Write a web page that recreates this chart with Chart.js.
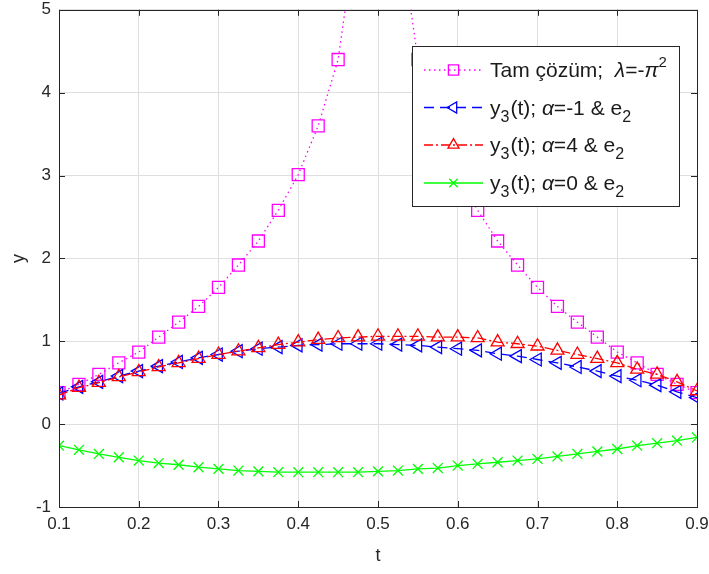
<!DOCTYPE html>
<html><head><meta charset="utf-8">
<script src="https://cdn.jsdelivr.net/npm/chart.js@4/dist/chart.umd.min.js"></script>
<style>html,body{margin:0;padding:0;background:#fff;}#wrap{width:709px;height:574px;position:relative;}</style>
</head><body><div id="wrap"><canvas id="c" width="709" height="574"></canvas></div>
<script>
// ---- data ----
const tValues = [0.1,0.125,0.15,0.175,0.2,0.225,0.25,0.275,0.3,0.325,0.35,0.375,0.4,0.425,0.45,0.475,0.5,0.525,0.55,0.575,0.6,0.625,0.65,0.675,0.7,0.725,0.75,0.775,0.8,0.825,0.85,0.875,0.9];
const exactSolution = [0.38,0.48,0.60,0.74,0.87,1.05,1.23,1.42,1.65,1.92,2.21,2.58,3.01,3.60,4.40,6.1,7.0,6.1,4.40,3.60,3.01,2.58,2.21,1.92,1.65,1.42,1.23,1.05,0.87,0.74,0.60,0.48,0.38];
const y3AlphaMinus1 = [0.37,0.45,0.51,0.58,0.64,0.70,0.75,0.80,0.84,0.88,0.91,0.93,0.95,0.96,0.97,0.97,0.97,0.96,0.95,0.93,0.91,0.89,0.85,0.82,0.78,0.74,0.69,0.64,0.58,0.53,0.47,0.39,0.32];
const y3Alpha4 = [0.35,0.44,0.50,0.57,0.63,0.69,0.74,0.79,0.84,0.88,0.92,0.96,0.99,1.02,1.04,1.05,1.06,1.06,1.06,1.05,1.05,1.04,0.99,0.97,0.94,0.89,0.84,0.79,0.74,0.66,0.60,0.51,0.40];
const y3Alpha0 = [-0.26,-0.31,-0.36,-0.40,-0.44,-0.47,-0.49,-0.52,-0.54,-0.56,-0.57,-0.58,-0.58,-0.58,-0.58,-0.58,-0.57,-0.56,-0.54,-0.53,-0.50,-0.48,-0.46,-0.44,-0.42,-0.39,-0.36,-0.33,-0.30,-0.26,-0.23,-0.20,-0.16];
const xTickLabels = ['0.1','0.2','0.3','0.4','0.5','0.6','0.7','0.8','0.9'];
const yTickLabels = ['-1','0','1','2','3','4','5'];
const seriesNames = [
  [{t:'Tam çözüm;  '},{t:'λ',it:true},{t:'=-'},{t:'π',it:true},{t:'2',sup:true}],
  [{t:'y'},{t:'3',sub:true},{t:'(t); '},{t:'α',it:true},{t:'=-1 & e'},{t:'2',sub:true}],
  [{t:'y'},{t:'3',sub:true},{t:'(t); '},{t:'α',it:true},{t:'=4 & e'},{t:'2',sub:true}],
  [{t:'y'},{t:'3',sub:true},{t:'(t); '},{t:'α',it:true},{t:'=0 & e'},{t:'2',sub:true}]
];
const axisTitleX = 't';
const axisTitleY = 'y';

const FONT = '"Liberation Sans", Arial, sans-serif';
const toPts = arr => tValues.map((t,i)=>({x:t,y:arr[i]}));

const styles = [
  {color:'#ff00ff', dash:[1.5,3.5], pointStyle:'rect', radius:8.5, rotation:0},
  {color:'#0000ff', dash:[10,6], pointStyle:'triangle', radius:7.5, rotation:-90},
  {color:'#ff0000', dash:[9,3,2,3], pointStyle:'triangle', radius:7.5, rotation:0},
  {color:'#00ff00', dash:[], pointStyle:'crossRot', radius:7, rotation:0}
];
const seriesData = [exactSolution, y3AlphaMinus1, y3Alpha4, y3Alpha0];

const datasets = seriesData.map((arr,i)=>({
  data: toPts(arr),
  borderColor: styles[i].color,
  backgroundColor: 'rgba(0,0,0,0)',
  borderWidth: 1.3,
  borderDash: styles[i].dash,
  pointStyle: styles[i].pointStyle,
  pointRadius: styles[i].radius,
  pointRotation: styles[i].rotation,
  pointBorderColor: styles[i].color,
  pointBackgroundColor: 'rgba(0,0,0,0)',
  pointBorderWidth: 1.3,
  tension: 0,
  fill: false,
  order: 4 - i
}));

const boxPlugin = {
  id: 'boxPlugin',
  afterDraw(chart) {
    const ctx = chart.ctx;
    const a = chart.chartArea;
    const xs = chart.scales.x, ys = chart.scales.y;
    ctx.save();
    ctx.strokeStyle = '#262626';
    ctx.lineWidth = 1;
    ctx.setLineDash([]);
    ctx.strokeRect(Math.round(a.left)+0.5, Math.round(a.top)+0.5, Math.round(a.right-a.left), Math.round(a.bottom-a.top));
    const L = 6;
    ctx.beginPath();
    xTickLabels.forEach(s=>{
      const px = Math.round(xs.getPixelForValue(parseFloat(s)))+0.5;
      ctx.moveTo(px, a.bottom); ctx.lineTo(px, a.bottom-L);
      ctx.moveTo(px, a.top); ctx.lineTo(px, a.top+L);
    });
    yTickLabels.forEach(s=>{
      const py = Math.round(ys.getPixelForValue(parseFloat(s)))+0.5;
      ctx.moveTo(a.left, py); ctx.lineTo(a.left+L, py);
      ctx.moveTo(a.right, py); ctx.lineTo(a.right-L, py);
    });
    ctx.stroke();

    // legend
    const bx = 412.5, by = 46.5, bw = 267, bh = 160;
    ctx.fillStyle = '#ffffff';
    ctx.fillRect(bx, by, bw, bh);
    ctx.strokeStyle = '#262626';
    ctx.strokeRect(bx, by, bw, bh);
    const rowY = [70, 107.5, 145, 183];
    const fs = 21;
    seriesNames.forEach((segs,i)=>{
      const st = styles[i];
      const y = rowY[i];
      ctx.save();
      ctx.strokeStyle = st.color;
      ctx.lineWidth = 1.3;
      ctx.setLineDash(st.dash);
      ctx.beginPath(); ctx.moveTo(424, y); ctx.lineTo(483, y); ctx.stroke();
      ctx.setLineDash([]);
      ctx.fillStyle = 'rgba(0,0,0,0)';
      Chart.helpers.drawPoint(ctx, {pointStyle: st.pointStyle, radius: st.radius*0.85, rotation: st.rotation, borderWidth: 1.3}, 453.5, y);
      ctx.restore();
      let x = 490;
      ctx.fillStyle = '#1a1a1a';
      ctx.textBaseline = 'alphabetic';
      ctx.textAlign = 'left';
      segs.forEach(sg=>{
        let size = fs, dy = 0, style = '';
        if (sg.sub) { size = 16; dy = 7; }
        if (sg.sup) { size = 15; dy = -10; }
        if (sg.it) style = 'italic ';
        ctx.font = style + size + 'px ' + FONT;
        ctx.fillText(sg.t, x, y + 7 + dy);
        x += ctx.measureText(sg.t).width + (sg.sub ? 1 : 0);
      });
    });
    ctx.restore();
  }
};

new Chart(document.getElementById('c'), {
  type: 'line',
  data: { datasets },
  options: {
    responsive: false,
    animation: false,
    devicePixelRatio: 1,
    layout: { padding: { left: 0, right: 12, top: 7, bottom: 0 } },
    plugins: { legend: { display: false }, tooltip: { enabled: false } },
    scales: {
      x: {
        type: 'linear', min: 0.1, max: 0.9,
        afterFit(s){ s.height = 67; s.paddingLeft = 0; s.paddingRight = 0; },
        afterBuildTicks(s){ s.ticks = xTickLabels.map(v=>({value: parseFloat(v)})); },
        ticks: { callback: (v)=> xTickLabels.find(s=>Math.abs(parseFloat(s)-v)<1e-6) || '', color:'#262626', font:{family:FONT, size:17}, padding: 7, maxRotation:0, autoSkip:false },
        grid: { color:'#dfdfdf', drawTicks:false, lineWidth:1 },
        border: { display:false },
        title: { display:true, text: axisTitleX, color:'#262626', font:{family:FONT, size:18}, padding:{top:6, bottom:7} }
      },
      y: {
        type: 'linear', min: -1, max: 5,
        afterFit(s){ s.width = 59; s.paddingTop = 0; s.paddingBottom = 0; },
        afterBuildTicks(s){ s.ticks = yTickLabels.map(v=>({value: parseFloat(v)})); },
        ticks: { callback: (v)=> yTickLabels.find(s=>Math.abs(parseFloat(s)-v)<1e-6) || '', color:'#262626', font:{family:FONT, size:17}, padding: 8 },
        grid: { color:'#dfdfdf', drawTicks:false, lineWidth:1 },
        border: { display:false },
        title: { display:true, text: axisTitleY, color:'#262626', font:{family:FONT, size:18}, padding:{top:8, bottom:0} }
      }
    }
  },
  plugins: [boxPlugin]
});
</script></body></html>
